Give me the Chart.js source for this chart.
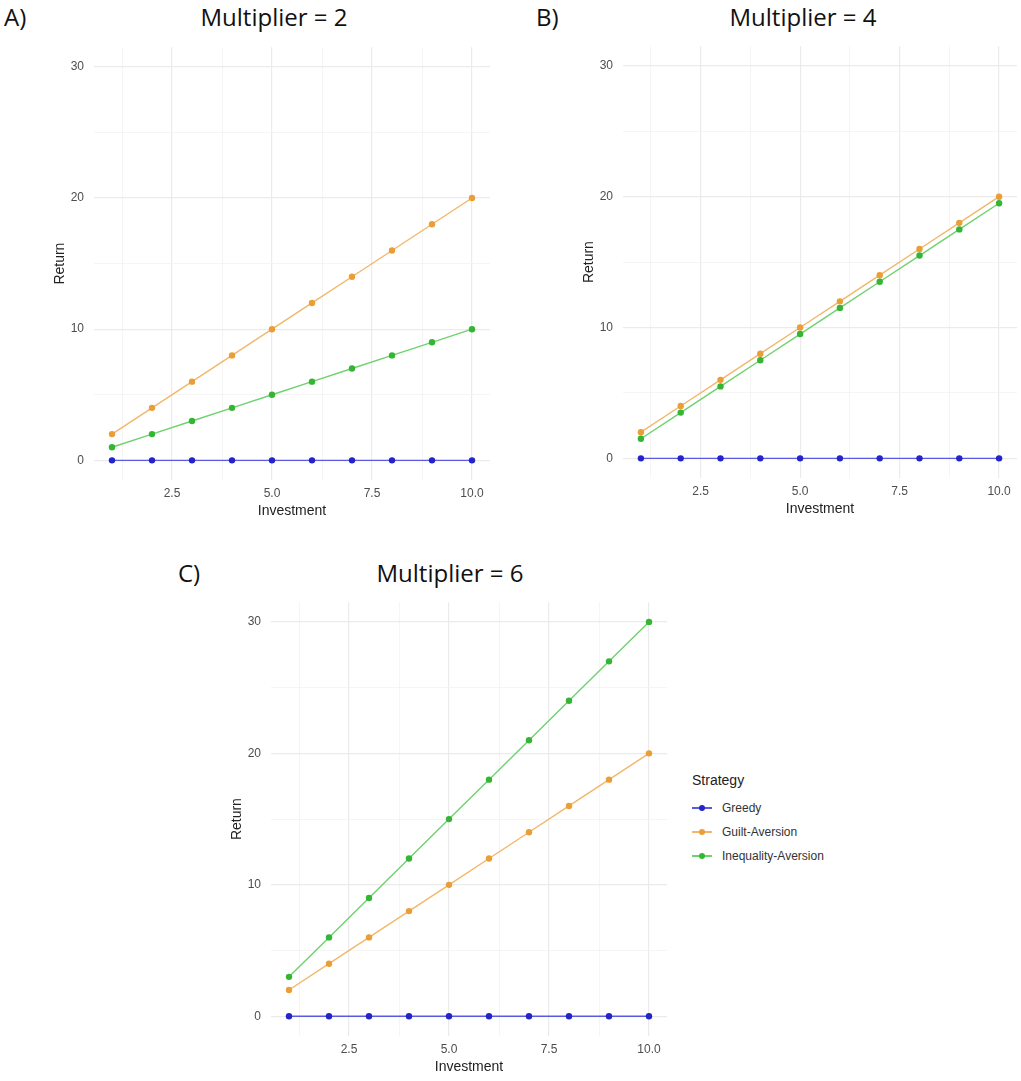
<!DOCTYPE html>
<html>
<head>
<meta charset="utf-8">
<script src="https://cdn.jsdelivr.net/npm/chart.js@4.4.0/dist/chart.umd.min.js"></script>
<style>
  body { margin: 0; background: #fff; width: 1021px; height: 1081px; position: relative; overflow: hidden; }
  .box { position: absolute; }
  .lab { position: absolute; font-family: "Open Sans", sans-serif; font-size: 24px; color: #111; line-height: 1; }
  .ttl { position: absolute; font-family: "Open Sans", sans-serif; font-size: 24px; color: #111; line-height: 1; transform: translateX(-50%); white-space: nowrap; }
  #legend { position: absolute; left: 692px; top: 772px; font-family: "Liberation Sans", Arial, sans-serif; color: #222; }
  #legend .head { font-size: 14px; margin-bottom: 8px; }
  #legend .item { height: 24px; display: flex; align-items: center; font-size: 12px; color: #333; }
  #legend .key { position: relative; width: 20px; height: 10px; margin-right: 10px; }
  #legend .key .ln { position: absolute; left: 0; right: 0; top: 4px; height: 1.5px; }
  #legend .key .pt { position: absolute; left: 7px; top: 2px; width: 6px; height: 6px; border-radius: 50%; }
</style>
</head>
<body>

<div class="lab" style="left:4px; top:5px;">A)</div>
<div class="ttl" style="left:274px; top:5px;">Multiplier = 2</div>
<div class="lab" style="left:536px; top:5px;">B)</div>
<div class="ttl" style="left:803px; top:5px;">Multiplier = 4</div>
<div class="lab" style="left:178px; top:561px;">C)</div>
<div class="ttl" style="left:450px; top:561px;">Multiplier = 6</div>

<div class="box" style="left:40px; top:30px;"><canvas id="chartA" width="470" height="500"></canvas></div>
<div class="box" style="left:569px; top:29px;"><canvas id="chartB" width="452" height="499"></canvas></div>
<div class="box" style="left:217px; top:585px;"><canvas id="chartC" width="470" height="496"></canvas></div>

<div id="legend">
  <div class="head">Strategy</div>
  <div id="legendItems"></div>
</div>

<script>
// data
const investment = [1, 2, 3, 4, 5, 6, 7, 8, 9, 10];
const strategies = ['Greedy', 'Guilt-Aversion', 'Inequality-Aversion'];

const greedyA = [0, 0, 0, 0, 0, 0, 0, 0, 0, 0];
const guiltA = [2, 4, 6, 8, 10, 12, 14, 16, 18, 20];
const inequalityA = [1, 2, 3, 4, 5, 6, 7, 8, 9, 10];

const greedyB = [0, 0, 0, 0, 0, 0, 0, 0, 0, 0];
const guiltB = [2, 4, 6, 8, 10, 12, 14, 16, 18, 20];
const inequalityB = [1.5, 3.5, 5.5, 7.5, 9.5, 11.5, 13.5, 15.5, 17.5, 19.5];

const greedyC = [0, 0, 0, 0, 0, 0, 0, 0, 0, 0];
const guiltC = [2, 4, 6, 8, 10, 12, 14, 16, 18, 20];
const inequalityC = [3, 6, 9, 12, 15, 18, 21, 24, 27, 30];

const xTicks = [1.25, 2.5, 3.75, 5, 6.25, 7.5, 8.75, 10];
const yTicks = [0, 5, 10, 15, 20, 25, 30];

const pointColors = ['#2424cc', '#eb9e35', '#34b534'];
const lineColors = ['#5a5ae0', '#f2b76a', '#6ed26e'];

function toPoints(values) {
    return investment.map(function (x, i) { return { x: x, y: values[i] }; });
}

function makeDatasets(series) {
    return series.map(function (values, i) {
        return {
            label: strategies[i],
            data: toPoints(values),
            borderColor: lineColors[i],
            backgroundColor: pointColors[i],
            pointBackgroundColor: pointColors[i],
            pointBorderWidth: 0,
            pointRadius: 3.2,
            borderWidth: 1.4,
            tension: 0,
            order: 2 - i
        };
    });
}

// pad = [top, right, bottom], yWidth = y axis box width
function makePanel(id, series, yWidth, pad) {
    const ctx = document.getElementById(id).getContext('2d');
    return new Chart(ctx, {
        type: 'line',
        data: { datasets: makeDatasets(series) },
        options: {
            responsive: false,
            animation: false,
            layout: { padding: { top: pad[0], right: pad[1], bottom: pad[2], left: 0 } },
            plugins: { legend: { display: false }, tooltip: { enabled: false } },
            scales: {
                x: {
                    type: 'linear',
                    min: 0.55,
                    max: 10.45,
                    afterBuildTicks: function (axis) {
                        axis.ticks = xTicks.map(function (v) { return { value: v }; });
                    },
                    afterFit: function (axis) { axis.height = 40; },
                    border: { display: false },
                    grid: {
                        drawTicks: false,
                        color: function (c) { return c.tick && c.tick.value % 2.5 === 0 ? '#ebebeb' : '#f3f3f3'; },
                        lineWidth: function (c) { return c.tick && c.tick.value % 2.5 === 0 ? 1.2 : 0.8; }
                    },
                    ticks: {
                        autoSkip: false,
                        maxRotation: 0,
                        padding: 6,
                        color: '#4d4d4d',
                        font: { family: 'Liberation Sans', size: 12 },
                        callback: function (v) { return v % 2.5 === 0 ? v.toFixed(1) : ''; }
                    },
                    title: {
                        display: true,
                        text: 'Investment',
                        color: '#222',
                        font: { family: 'Liberation Sans', size: 14 },
                        padding: { top: 0, bottom: 0 }
                    }
                },
                y: {
                    type: 'linear',
                    min: -1.5,
                    max: 31.5,
                    afterBuildTicks: function (axis) {
                        axis.ticks = yTicks.map(function (v) { return { value: v }; });
                    },
                    afterFit: function (axis) { axis.width = yWidth; },
                    border: { display: false },
                    grid: {
                        drawTicks: false,
                        color: function (c) { return c.tick && c.tick.value % 10 === 0 ? '#ebebeb' : '#f3f3f3'; },
                        lineWidth: function (c) { return c.tick && c.tick.value % 10 === 0 ? 1.2 : 0.8; }
                    },
                    ticks: {
                        autoSkip: false,
                        padding: 10,
                        color: '#4d4d4d',
                        font: { family: 'Liberation Sans', size: 12 },
                        callback: function (v) { return v % 10 === 0 ? String(v) : ''; }
                    },
                    title: {
                        display: true,
                        text: 'Return',
                        color: '#222',
                        font: { family: 'Liberation Sans', size: 14 },
                        padding: { top: 12, bottom: 0 }
                    }
                }
            }
        }
    });
}

window.onload = function () {
    makePanel('chartA', [greedyA, guiltA, inequalityA], 54, [10, 20, 10]);
    makePanel('chartB', [greedyB, guiltB, inequalityB], 54, [10, 2, 10]);
    makePanel('chartC', [greedyC, guiltC, inequalityC], 54, [10, 20, 5]);

    // legend for panel C
    const holder = document.getElementById('legendItems');
    strategies.forEach(function (name, i) {
        const item = document.createElement('div');
        item.className = 'item';
        item.innerHTML = '<div class="key"><div class="ln" style="background:' + lineColors[i] +
            '"></div><div class="pt" style="background:' + pointColors[i] + '"></div></div><span>' + name + '</span>';
        holder.appendChild(item);
    });
};
</script>
</body>
</html>
